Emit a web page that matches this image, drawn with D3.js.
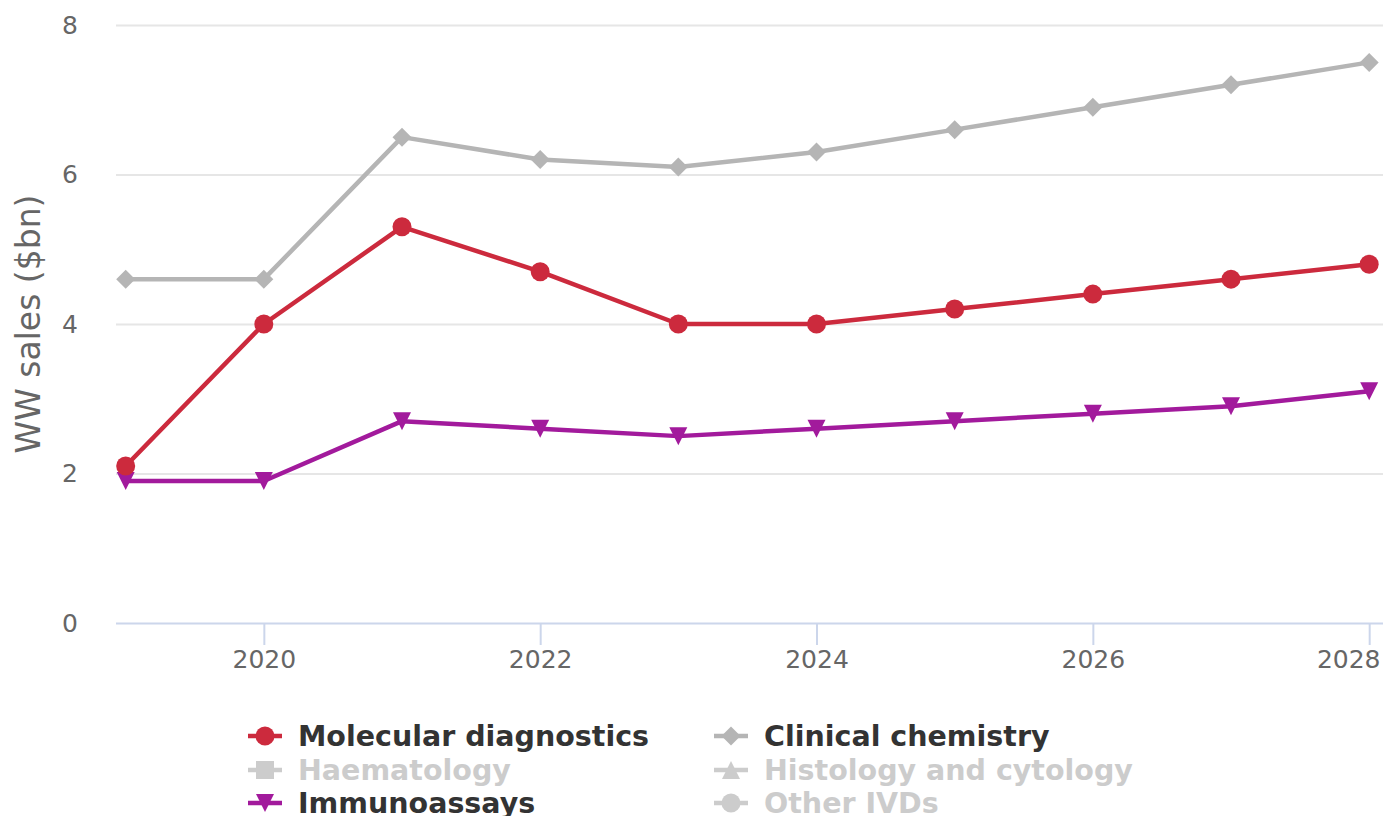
<!DOCTYPE html>
<html>
<head>
<meta charset="utf-8">
<script src="https://cdn.jsdelivr.net/npm/d3@7"></script>
<style>
  body { margin: 0; background: #fff; }
  svg { display: block; font-family: "DejaVu Sans", Verdana, sans-serif; }
</style>
</head>
<body>
<svg id="chart" width="1383" height="816"></svg>
<script>
// years on the x axis
const years = [2019, 2020, 2021, 2022, 2023, 2024, 2025, 2026, 2027, 2028];
const molecular = [2.1, 4.0, 5.3, 4.7, 4.0, 4.0, 4.2, 4.4, 4.6, 4.8];
const clinical = [4.6, 4.6, 6.5, 6.2, 6.1, 6.3, 6.6, 6.9, 7.2, 7.5];
const immuno = [1.9, 1.9, 2.7, 2.6, 2.5, 2.6, 2.7, 2.8, 2.9, 3.1];
const xTicks = [2020, 2022, 2024, 2026, 2028];
const yTicks = [0, 2, 4, 6, 8];

// legend entries, hidden ones are greyed out
const legendItems = [
  {name: 'Molecular diagnostics', symbol: 'circle', color: '#cc2a3d', visible: true},
  {name: 'Clinical chemistry', symbol: 'diamond', color: '#b5b5b5', visible: true},
  {name: 'Haematology', symbol: 'square', color: '#cccccc', visible: false},
  {name: 'Histology and cytology', symbol: 'triangle', color: '#cccccc', visible: false},
  {name: 'Immunoassays', symbol: 'triangle-down', color: '#a21a9c', visible: true},
  {name: 'Other IVDs', symbol: 'circle', color: '#cccccc', visible: false}
];

const series = [
  {values: clinical, color: '#b5b5b5', symbol: 'diamond'},
  {values: immuno, color: '#a21a9c', symbol: 'triangle-down'},
  {values: molecular, color: '#cc2a3d', symbol: 'circle'}
];

const svg = d3.select('#chart');
const plotL = 116, plotR = 1383, plotT = 25, plotB = 623;

const x = d3.scaleLinear().domain([2018.93, 2028.1]).range([plotL, plotR]);
const y = d3.scaleLinear().domain([0, 8]).range([plotB, plotT]);

// marker path generator, centred at 0,0
function markerPath(sym, r) {
  if (sym === 'circle') return d3.symbol(d3.symbolCircle, Math.PI * r * r)();
  if (sym === 'square') return `M${-r},${-r}H${r}V${r}H${-r}Z`;
  if (sym === 'diamond') return `M0,${-r}L${r},0L0,${r}L${-r},0Z`;
  if (sym === 'triangle') return `M0,${-r}L${r},${r}L${-r},${r}Z`;
  if (sym === 'triangle-down') return `M${-r},${-r}L${r},${-r}L0,${r}Z`;
}
const markerSize = sym => sym === 'diamond' ? 9.5 : (sym === 'circle' ? 9.5 : 9);

// grid lines
svg.append('g')
  .selectAll('line')
  .data(yTicks.filter(d => d > 0))
  .join('line')
    .attr('x1', plotL).attr('x2', plotR)
    .attr('y1', d => y(d) + 0.5).attr('y2', d => y(d) + 0.5)
    .attr('stroke', '#e6e6e6').attr('stroke-width', 2);

// y axis labels
const yAxis = svg.append('g')
  .attr('transform', `translate(${plotL},0)`)
  .call(d3.axisLeft(y).tickValues(yTicks).tickSize(0).tickPadding(38))
  .style('font-family', '"DejaVu Sans", Verdana, sans-serif')
  .style('font-size', '25px');
yAxis.select('.domain').remove();
yAxis.selectAll('text').attr('fill', '#666666');

// x axis
const xAxis = svg.append('g')
  .attr('transform', `translate(0,${plotB})`)
  .call(d3.axisBottom(x).tickValues(xTicks).tickFormat(d3.format('d')).tickSize(22).tickPadding(5))
  .style('font-family', '"DejaVu Sans", Verdana, sans-serif')
  .style('font-size', '25px');
xAxis.select('.domain').attr('d', `M${plotL},0.5H${plotR}`).attr('stroke', '#ccd6eb').attr('stroke-width', 2);
xAxis.selectAll('.tick line').attr('stroke', '#ccd6eb').attr('stroke-width', 2);
xAxis.selectAll('text').attr('fill', '#666666');
// keep the last label inside the chart
xAxis.selectAll('.tick text')
  .filter(d => d === xTicks[xTicks.length - 1])
  .attr('text-anchor', 'end')
  .attr('x', plotR - 3 - x(xTicks[xTicks.length - 1]));

// y axis title
svg.append('text')
  .attr('transform', `translate(40,${(plotT + plotB) / 2}) rotate(-90)`)
  .attr('text-anchor', 'middle')
  .attr('fill', '#666666')
  .style('font-size', '33px')
  .text('WW sales ($bn)');

// lines and markers
const line = d3.line()
  .x((d, i) => x(years[i]))
  .y(d => y(d));

series.forEach(s => {
  svg.append('path')
    .datum(s.values)
    .attr('d', line)
    .attr('fill', 'none')
    .attr('stroke', s.color)
    .attr('stroke-width', 4.5)
    .attr('stroke-linejoin', 'round');
  svg.append('g')
    .selectAll('path')
    .data(s.values)
    .join('path')
      .attr('transform', (d, i) => `translate(${x(years[i])},${y(d)})`)
      .attr('d', markerPath(s.symbol, markerSize(s.symbol)))
      .attr('fill', s.color);
});

// legend
const legend = svg.append('g');
const colX = [248, 714];
const rowY = [736, 770, 803];
legendItems.forEach((item, i) => {
  const g = legend.append('g')
    .attr('transform', `translate(${colX[i % 2]},${rowY[Math.floor(i / 2)]})`);
  g.append('line')
    .attr('x1', 0).attr('x2', 34)
    .attr('stroke', item.color).attr('stroke-width', 4.5);
  g.append('path')
    .attr('transform', 'translate(17,0)')
    .attr('d', markerPath(item.symbol, markerSize(item.symbol)))
    .attr('fill', item.color);
  g.append('text')
    .attr('x', 50)
    .attr('dy', '0.36em')
    .attr('fill', item.visible ? '#333333' : '#cccccc')
    .style('font-size', '28.5px')
    .style('font-weight', 'bold')
    .text(item.name);
});
</script>
</body>
</html>
